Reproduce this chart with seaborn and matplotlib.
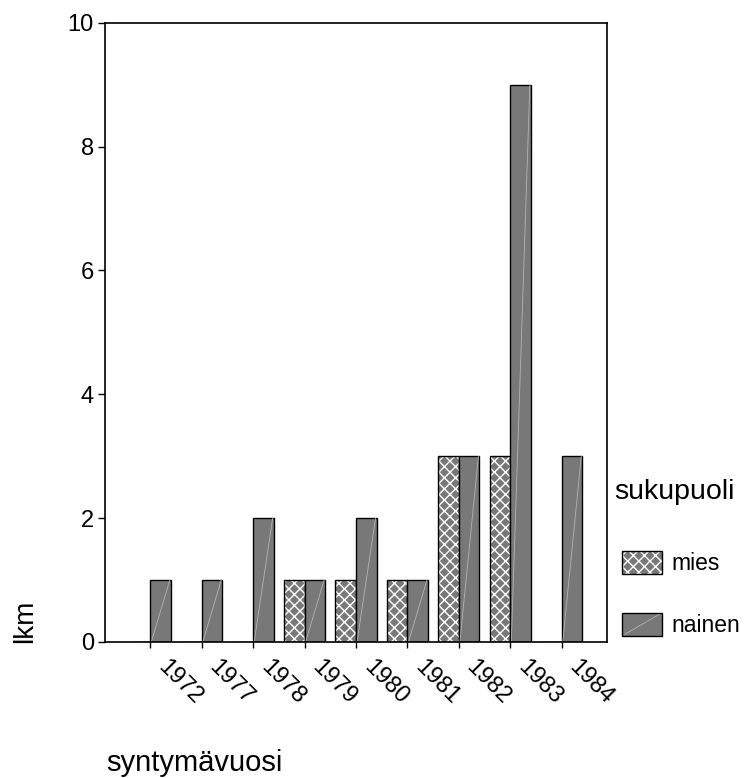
import matplotlib
matplotlib.use("Agg")
import matplotlib.pyplot as plt
import matplotlib.transforms as mtransforms
from matplotlib.colors import to_rgba
from matplotlib.legend_handler import HandlerPatch
from matplotlib.lines import Line2D
from matplotlib.patches import Patch
import pandas as pd
import seaborn as sns

years = ["1972", "1977", "1978", "1979", "1980", "1981", "1982", "1983", "1984"]
sexes = ["mies", "nainen"]
mies = [0, 0, 0, 1, 1, 1, 3, 3, 0]
nainen = [1, 1, 2, 1, 2, 1, 3, 9, 3]
yticks = [0, 2, 4, 6, 8, 10]

BAR = "#787878"
DIAG = "#b4b4b4"

df = pd.DataFrame({
    "syntymävuosi": years * 2,
    "sukupuoli": ["mies"] * len(years) + ["nainen"] * len(years),
    "lkm": mies + nainen,
})

sns.set_style("white")
plt.rcParams["font.family"] = ["Liberation Sans", "DejaVu Sans"]
plt.rcParams["hatch.linewidth"] = 1.0
plt.rcParams["text.color"] = "black"
plt.rcParams["axes.labelcolor"] = "black"

fig = plt.figure(figsize=(7.46, 7.78), dpi=100)
ax = fig.add_axes([105 / 746, 1 - 642 / 778, 502 / 746, 619.3 / 778])

sns.barplot(data=df, x="syntymävuosi", y="lkm", hue="sukupuoli", order=years,
            hue_order=sexes, palette=[BAR, BAR], edgecolor="black", linewidth=1.0,
            width=0.8, errorbar=None, saturation=1, ax=ax)
ax.get_legend().remove()

# mies: white cross hatch on grey
for p in ax.containers[0]:
    p.set_hatch("xxx")
    p._hatch_color = to_rgba("white")

# nainen: faint diagonal from bottom-left to top-right
for p in ax.containers[1]:
    x0, y0 = p.get_x(), p.get_y()
    ax.plot([x0 + 0.02, x0 + p.get_width() - 0.02], [y0, y0 + p.get_height()],
            color=DIAG, lw=0.6, zorder=p.get_zorder() + 0.1)

ax.set_xlim(-0.88, 8.88)
ax.set_ylim(0, 10)
ax.set_yticks(yticks)
ax.set_yticklabels([str(t) for t in yticks])

for s in ax.spines.values():
    s.set_color("black")
    s.set_linewidth(1.2)

ax.tick_params(axis="y", direction="out", length=5, width=1, colors="black",
               labelsize=17, pad=3, left=True)
ax.tick_params(axis="x", direction="out", length=4.5, width=1, colors="black",
               labelsize=17, pad=11, bottom=True)

offset = mtransforms.ScaledTranslation(11 / 100, 0, fig.dpi_scale_trans)
for lab in ax.get_xticklabels():
    lab.set_rotation(-45)
    lab.set_ha("left")
    lab.set_va("center")
    lab.set_rotation_mode("anchor")
    lab.set_transform(lab.get_transform() + offset)

ax.set_xlabel("syntymävuosi", fontsize=21, color="black")
ax.xaxis.set_label_coords(0.179, -0.172)
ax.set_ylabel("lkm", fontsize=20, color="black")
ax.yaxis.set_label_coords(-0.133, 0.034)


class DiagHandler(HandlerPatch):
    def create_artists(self, legend, orig_handle, xdescent, ydescent, width,
                       height, fontsize, trans):
        arts = super().create_artists(legend, orig_handle, xdescent, ydescent,
                                      width, height, fontsize, trans)
        line = Line2D([-xdescent + 2, -xdescent + width - 2],
                      [-ydescent + 1, -ydescent + height - 1],
                      color=DIAG, lw=0.6, transform=trans)
        return arts + [line]


h_mies = Patch(facecolor=BAR, edgecolor="black", linewidth=1.0, hatch="xxx")
h_mies._hatch_color = to_rgba("white")
h_nainen = Patch(facecolor=BAR, edgecolor="black", linewidth=1.0)

fig.text(614 / 746, 1 - 492 / 778, "sukupuoli", fontsize=20.5, ha="left",
         va="center", color="black")
fig.legend([h_mies, h_nainen], sexes, loc="upper left",
           bbox_to_anchor=(622 / 746, 1 - 551 / 778), frameon=False,
           fontsize=16.5, handlelength=1.75, handleheight=1.15, handletextpad=0.4,
           labelspacing=1.65, borderpad=0, borderaxespad=0, labelcolor="black",
           handler_map={h_nainen: DiagHandler()})

fig.savefig("out.png", dpi=100)
